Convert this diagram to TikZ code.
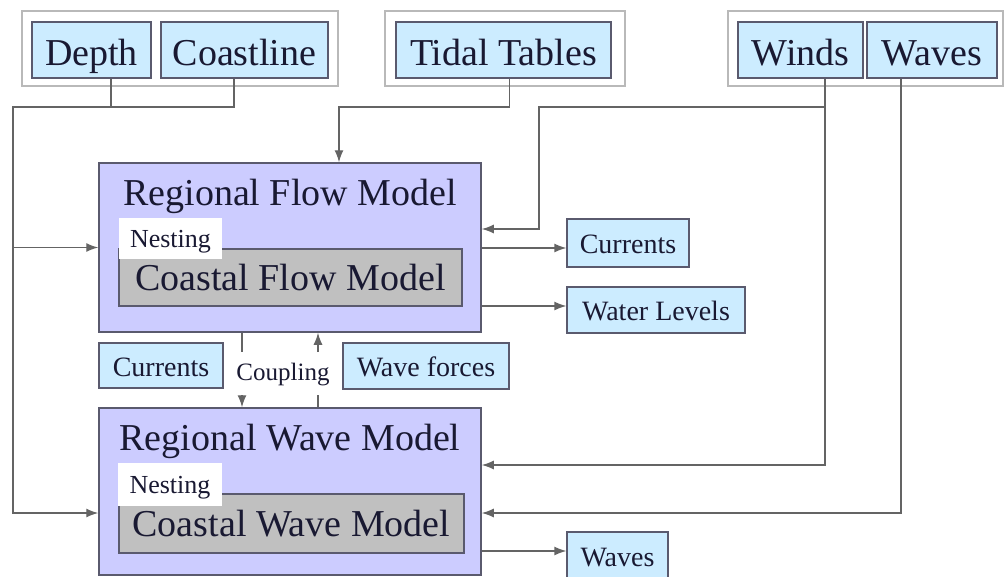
\documentclass[tikz,border=0pt]{standalone}
\usepackage{fontspec}
\setmainfont{Liberation Serif}
\usetikzlibrary{arrows.meta}
\definecolor{boxblue}{RGB}{204,236,255}
\definecolor{lav}{RGB}{204,204,255}
\definecolor{silv}{RGB}{192,192,192}
\definecolor{bordc}{RGB}{90,90,110}
\definecolor{txtc}{RGB}{25,25,50}
\definecolor{linec}{RGB}{100,100,100}
\definecolor{frameg}{RGB}{185,185,185}
\tikzset{
  bigfont/.style={font=\fontsize{38}{40}\selectfont},
  midfont/.style={font=\fontsize{28}{30}\selectfont},
  smallfont/.style={font=\fontsize{26}{28}\selectfont},
  databox/.style={draw=bordc, fill=boxblue, line width=1.3pt, inner sep=0pt, text depth=0pt, text=txtc},
  bigbox/.style={databox, bigfont, text height=30pt},
  midbox/.style={databox, midfont, text height=21pt},
  groupframe/.style={draw=frameg, line width=1.2pt, inner sep=0pt},
  modelbox/.style={draw=bordc, fill=lav, line width=1.5pt, inner sep=0pt},
  coastbox/.style={draw=bordc, fill=silv, line width=1.3pt, inner sep=0pt, bigfont, text height=25pt, text depth=0pt, text=txtc},
  nestbox/.style={fill=white, inner sep=0pt, smallfont, text height=17pt, text depth=0pt, text=txtc},
  titletext/.style={bigfont, anchor=base, text=txtc, inner sep=0pt},
  conn/.style={draw=linec, line width=1.3pt},
  arr/.style={conn, -{Latex[length=12pt,width=9pt]}},
}
\begin{document}
\begin{tikzpicture}[x=1pt,y=-1pt]
\path[use as bounding box] (0,0) rectangle (1007,576);
\clip (0,0) rectangle (1007,576);

% source groups
\node[groupframe, minimum width=316pt, minimum height=75pt] (g1) at (180,48.5) {};
\node[groupframe, minimum width=240pt, minimum height=75pt] (g2) at (505,48.5) {};
\node[groupframe, minimum width=275pt, minimum height=75pt] (g3) at (865.5,48.5) {};
\node[bigbox, minimum width=119pt, minimum height=56pt] (depth) at (91.5,50) {Depth};
\node[bigbox, minimum width=167pt, minimum height=56pt] (coast) at (244.5,50) {Coastline};
\node[bigbox, minimum width=215pt, minimum height=56pt] (tidal) at (503.5,50) {Tidal Tables};
\node[bigbox, minimum width=125pt, minimum height=56pt] (winds) at (800.5,50) {Winds};
\node[bigbox, minimum width=130pt, minimum height=56pt] (waves) at (932,50) {Waves};

% regional flow model
\node[modelbox, minimum width=382pt, minimum height=169pt] (rfm) at (290,247.5) {};
\node[coastbox, minimum width=343pt, minimum height=57pt] (cfm) at (290.5,277.5) {Coastal Flow Model};
\node[nestbox, minimum width=103pt, minimum height=41pt] (nest1) at (170.5,238.5) {Nesting};
\node[titletext] (rfmt) at (290,205) {Regional Flow Model};

% regional wave model
\node[modelbox, minimum width=382pt, minimum height=167pt] (rwm) at (290,491.5) {};
\node[coastbox, minimum width=345pt, minimum height=59pt] (cwm) at (291.5,523.5) {Coastal Wave Model};
\node[nestbox, minimum width=104pt, minimum height=43pt] (nest2) at (170,484.5) {Nesting};
\node[titletext] (rwmt) at (290,450) {Regional Wave Model};

% outputs and coupling boxes
\node[midbox, minimum width=122pt, minimum height=48pt] (currR) at (628,243) {Currents};
\node[midbox, minimum width=178pt, minimum height=46pt] (wlev) at (656,310) {Water Levels};
\node[midbox, minimum width=101pt, minimum height=48pt] (wout) at (617.5,556) {Waves};
\node[midbox, minimum width=124pt, minimum height=45pt] (currL) at (161,365.5) {Currents};
\node[midbox, minimum width=166pt, minimum height=46pt] (wforce) at (426,366) {Wave forces};
\node[font=\fontsize{25}{27}\selectfont, anchor=base, text=txtc, inner sep=0pt] (coup) at (283,380) {Coupling};

% helper coordinates
\coordinate (lj) at (13,107);
\coordinate (dp) at ([xshift=19.5pt]depth.south);
\coordinate (cs) at ([xshift=-10.5pt]coast.south);
\coordinate (td) at ([xshift=6pt]tidal.south);
\coordinate (tj) at (339,107);
\coordinate (wd) at ([xshift=24.5pt]winds.south);
\coordinate (wj) at (539,107);
\coordinate (vd) at ([xshift=-31pt]waves.south);
\coordinate (yWa) at (0,229);
\coordinate (yWb) at (0,465);
\coordinate (yV) at (0,513);
\coordinate (yC) at (0,248);
\coordinate (yWL) at (0,306);
\coordinate (yWO) at (0,551);
\coordinate (cdA) at (242,352);
\coordinate (cdB) at (242,395);
\coordinate (cuA) at (318,395);
\coordinate (cuB) at (318,352);

% depth / coastline
\draw[conn] (dp) -- (dp |- lj);
\draw[arr] (cs) |- (lj) |- (rwm.west |- yV);
\draw[arr] (lj |- rfm.west) -- (rfm.west);
% tidal tables
\draw[arr] (td) |- (tj) -- (rfm.north -| tj);
% winds
\draw[arr] (wd) |- (rwm.east |- yWb);
\draw[arr] (wd |- wj) -- (wj) |- (rfm.east |- yWa);
% waves
\draw[arr] (vd) |- (rwm.east |- yV);
% outputs
\draw[arr] (rfm.east |- yC) -- (currR.west |- yC);
\draw[arr] (rfm.east |- yWL) -- (wlev.west |- yWL);
\draw[arr] (rwm.east |- yWO) -- (wout.west |- yWO);
% coupling
\draw[conn] (rfm.south -| cdA) -- (cdA);
\draw[arr] (cdB) -- (rwm.north -| cdB);
\draw[conn] (rwm.north -| cuA) -- (cuA);
\draw[arr] (cuB) -- (rfm.south -| cuB);
\end{tikzpicture}
\end{document}
